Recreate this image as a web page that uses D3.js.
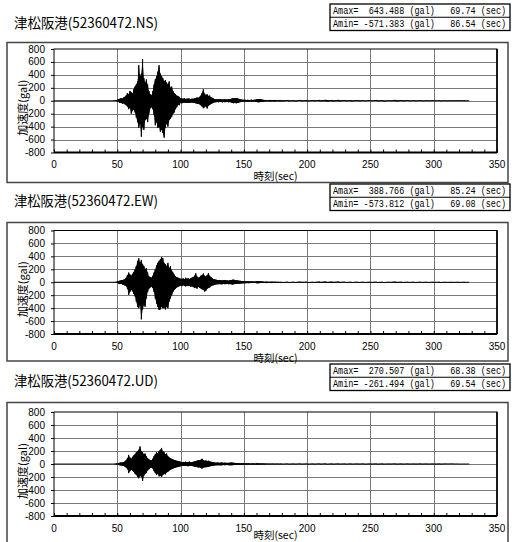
<!DOCTYPE html>
<html><head><meta charset="utf-8">
<script src="https://cdn.jsdelivr.net/npm/d3@7"></script>
<style>html,body{margin:0;padding:0;background:#fff;} svg{display:block}</style>
</head><body>
<script>
// ---------------- DATA ----------------
const stationName = "津松阪港";
const stationCode = "52360472";
const components = ["NS", "EW", "UD"];
const amaxValues = [643.488, 388.766, 270.507];
const amaxTimes  = [69.74, 85.24, 68.38];
const aminValues = [-571.383, -573.812, -261.494];
const aminTimes  = [86.54, 69.08, 69.54];
const xTicks = [0, 50, 100, 150, 200, 250, 300, 350];
const yTicks = [-800, -600, -400, -200, 0, 200, 400, 600, 800];
const xTitle = "時刻(sec)";
const yTitle = "加速度(gal)";

// sample grid (sec): start, then 1 s bins 45..180, then 5 s bins 185..325, last sample 328
const sampleTimes = [0].concat(d3.range(45, 181), d3.range(185, 326, 5), [328]);

// per-bin peak (hi) and trough (lo) accelerations read from the record (gal)
const nsHi = [0,
 0,0,2,3,5,
 15,25,30,40,35,50,60,80,120,100,
 150,130,110,180,220,250,300,550,380,420,
 643,350,280,330,250,150,100,80,150,250,
 330,380,450,550,420,380,350,300,320,280,
 250,300,200,220,150,120,100,80,70,60,
 40,35,30,38,28,32,35,30,28,32,
 30,35,40,50,45,60,80,120,177,110,
 90,100,75,80,55,45,35,25,22,25,
 20,22,25,18,20,22,20,18,22,25,
 30,38,35,42,40,36,30,22,18,15,
 14,15,12,14,12,13,15,12,14,16,
 20,25,22,26,20,15,12,10,8,9,
 10,8,12,10,8,10,8,7,8,6,8,
 6,5,7,5,6,8,10,7,9,6,5,6,4,5,6,5,4,8,6,5,4,5,3,4,3,3,2,3,2,1];
const nsLo = [0,
 0,0,-2,-3,-5,
 -15,-20,-35,-30,-45,-40,-55,-70,-90,-130,
 -110,-200,-160,-140,-180,-260,-330,-420,-350,-557,
 -400,-450,-300,-280,-330,-200,-120,-100,-130,-220,
 -380,-330,-420,-400,-480,-450,-500,-571,-420,-350,
 -400,-300,-280,-250,-200,-180,-130,-100,-60,-70,
 -35,-40,-30,-32,-28,-35,-30,-32,-30,-28,
 -32,-30,-40,-45,-50,-55,-70,-90,-115,-100,
 -85,-120,-80,-65,-50,-40,-30,-25,-22,-20,
 -22,-18,-20,-24,-18,-22,-20,-18,-22,-20,
 -28,-35,-38,-32,-40,-34,-28,-22,-16,-14,
 -12,-14,-11,-13,-15,-11,-13,-14,-11,-13,
 -18,-22,-24,-20,-18,-14,-11,-9,-8,-8,
 -8,-10,-8,-9,-10,-7,-8,-6,-8,-7,-6,
 -5,-6,-5,-7,-5,-6,-9,-8,-7,-5,-6,-5,-5,-4,-5,-6,-4,-7,-5,-4,-5,-4,-3,-3,-4,-3,-2,-2,-2,-1];

const ewHi = [0,
 0,0,2,3,4,
 12,20,25,30,35,40,45,70,110,150,
 120,100,130,160,200,250,330,371,300,345,
 280,250,200,220,150,90,80,70,100,150,
 200,260,300,330,350,389,371,300,280,250,
 300,220,250,180,150,120,90,80,70,60,
 55,50,60,45,70,55,60,50,65,70,
 80,100,139,90,70,80,100,110,135,100,
 90,110,139,100,80,60,50,45,40,35,
 30,35,32,28,30,35,30,28,25,30,
 35,38,40,35,30,28,25,22,20,18,
 18,16,15,14,15,13,14,12,13,12,
 15,18,16,14,12,10,9,8,8,7,
 7,8,6,7,6,6,5,6,5,5,5,
 5,4,6,5,4,6,8,6,7,5,4,5,4,4,5,4,3,6,5,4,3,4,3,3,3,2,2,2,2,1];
const ewLo = [0,
 0,0,-2,-3,-4,
 -10,-20,-28,-25,-35,-40,-50,-60,-100,-196,
 -150,-120,-140,-180,-220,-300,-380,-400,-350,-574,
 -420,-350,-380,-250,-150,-100,-80,-70,-90,-150,
 -250,-330,-380,-428,-420,-380,-400,-390,-420,-380,
 -400,-300,-250,-200,-150,-120,-100,-80,-70,-60,
 -50,-60,-45,-55,-65,-50,-60,-55,-70,-60,
 -75,-90,-80,-100,-70,-85,-95,-110,-120,-144,
 -130,-100,-90,-80,-60,-50,-45,-40,-35,-30,
 -30,-28,-32,-30,-25,-30,-28,-25,-30,-28,
 -32,-35,-30,-28,-26,-24,-22,-20,-18,-16,
 -16,-15,-14,-13,-14,-12,-13,-12,-11,-12,
 -14,-16,-14,-12,-10,-9,-8,-8,-7,-7,
 -6,-7,-6,-6,-5,-6,-5,-5,-5,-5,-5,
 -4,-5,-4,-5,-4,-6,-7,-6,-5,-4,-5,-4,-4,-3,-4,-5,-3,-6,-4,-3,-4,-3,-3,-2,-3,-2,-2,-2,-2,-1];

const udHi = [0,
 0,0,1,2,3,
 10,15,20,25,22,30,40,60,90,140,
 100,80,110,130,150,180,200,220,271,200,
 180,150,160,120,90,70,60,55,80,120,
 150,180,160,200,220,247,200,180,150,160,
 120,100,90,80,70,60,55,50,45,40,
 35,30,32,28,35,30,32,35,30,28,
 35,40,45,50,60,55,65,80,60,50,
 55,45,50,40,35,30,25,22,20,22,
 20,18,22,20,18,20,18,16,18,20,
 22,20,18,16,15,14,13,12,12,11,
 10,11,10,9,10,9,8,9,8,8,
 10,12,10,9,8,7,6,6,5,5,
 5,5,4,5,4,4,4,4,3,4,3,
 3,3,4,3,3,4,5,4,4,3,3,3,3,2,3,3,2,4,3,3,2,3,2,2,2,2,2,1,1,1];
const udLo = [0,
 0,0,-1,-2,-3,
 -10,-15,-20,-22,-28,-30,-40,-55,-80,-140,
 -110,-90,-100,-120,-150,-170,-200,-220,-180,-200,
 -261,-180,-150,-140,-100,-80,-60,-55,-70,-110,
 -140,-170,-150,-190,-180,-200,-170,-150,-160,-130,
 -120,-100,-90,-80,-70,-60,-55,-50,-45,-40,
 -35,-32,-30,-28,-32,-30,-35,-28,-30,-32,
 -35,-40,-42,-48,-55,-50,-60,-70,-55,-50,
 -50,-48,-42,-38,-32,-28,-25,-22,-20,-20,
 -18,-20,-20,-18,-16,-18,-17,-16,-18,-18,
 -20,-18,-16,-15,-14,-13,-12,-12,-11,-10,
 -10,-10,-9,-9,-8,-9,-8,-8,-8,-7,
 -9,-11,-9,-8,-7,-6,-6,-5,-5,-5,
 -5,-4,-4,-4,-4,-4,-3,-4,-3,-3,-3,
 -3,-3,-3,-4,-3,-3,-5,-4,-3,-3,-3,-2,-3,-2,-3,-3,-2,-3,-3,-2,-2,-2,-2,-2,-2,-1,-1,-1,-1,-1];

const hiSeries = [nsHi, ewHi, udHi];
const loSeries = [nsLo, ewLo, udLo];

// ---------------- LAYOUT ----------------
const W = 512, H = 542;
const plotLeft = 54, plotRight = 497;
const titleBase = [27.5, 206, 386];
const boxTop = [4, 184, 364];
const frameTop = [42.5, 222.5, 402.5];
const frameBottom = [182.5, 361, 546];
const plotTop = [49, 230.5, 412];
const plotBottom = [152.5, 334, 516];
const xTitleBase = [180, 361.5, 538.5];

const sansCJK = "'Noto Sans CJK JP', 'Noto Sans', sans-serif";
const sansNum = "'Liberation Sans', Arial, sans-serif";
const mono = "'Liberation Mono', 'DejaVu Sans Mono', monospace";

const svg = d3.select("body").append("svg").attr("width", W).attr("height", H)
  .style("font-family", sansNum);

const x = d3.scaleLinear().domain([0, 350]).range([plotLeft, plotRight]);

components.forEach((comp, p) => {
  const g = svg.append("g");
  const y = d3.scaleLinear().domain([-800, 800]).range([plotBottom[p], plotTop[p]]);

  // title
  g.append("text").attr("x", 14).attr("y", titleBase[p])
    .attr("font-family", sansCJK).attr("font-size", 14).attr("fill", "#000")
    .attr("textLength", 144).attr("lengthAdjust", "spacingAndGlyphs")
    .text(`${stationName}(${stationCode}.${comp})`);

  // info box
  const bx = 330, bw = 180, bh = 26.5;
  g.append("rect").attr("x", bx).attr("y", boxTop[p]).attr("width", bw).attr("height", bh)
    .attr("fill", "#fff").attr("stroke", "#000").attr("stroke-width", 1.3);
  g.append("line").attr("x1", bx).attr("x2", bx + bw)
    .attr("y1", boxTop[p] + bh / 2).attr("y2", boxTop[p] + bh / 2)
    .attr("stroke", "#000").attr("stroke-width", 1.2);
  const rows = [
    `Amax=${amaxValues[p].toFixed(3).padStart(9, " ")} (gal)${amaxTimes[p].toFixed(2).padStart(8, " ")} (sec)`,
    `Amin=${aminValues[p].toFixed(3).padStart(9, " ")} (gal)${aminTimes[p].toFixed(2).padStart(8, " ")} (sec)`
  ];
  rows.forEach((r, i) => {
    g.append("text")
      .attr("transform", `translate(333,${boxTop[p] + 9.8 + i * 13.25}) scale(0.85,1)`)
      .attr("font-family", mono).attr("font-size", 10).attr("fill", "#000")
      .attr("xml:space", "preserve").style("white-space", "pre")
      .text(r);
  });

  // outer frame
  g.append("rect").attr("x", 7).attr("y", frameTop[p]).attr("width", 501)
    .attr("height", frameBottom[p] - frameTop[p])
    .attr("fill", "none").attr("stroke", "#444").attr("stroke-width", 1.5);

  // grid
  const grid = g.append("g").attr("stroke", "#7a7a7a").attr("stroke-width", 1);
  xTicks.slice(1, -1).forEach(t => grid.append("line")
    .attr("x1", Math.round(x(t)) + 0.5).attr("x2", Math.round(x(t)) + 0.5)
    .attr("y1", plotTop[p]).attr("y2", plotBottom[p]));
  yTicks.slice(1, -1).forEach(v => grid.append("line")
    .attr("x1", plotLeft).attr("x2", plotRight)
    .attr("y1", Math.round(y(v)) + 0.5).attr("y2", Math.round(y(v)) + 0.5));

  // trace: filled min/max envelope plus zig-zag through peaks and troughs
  const clipId = "clip" + p;
  g.append("clipPath").attr("id", clipId).append("rect")
    .attr("x", plotLeft).attr("y", plotTop[p]).attr("width", plotRight - plotLeft)
    .attr("height", plotBottom[p] - plotTop[p]);
  const hi = hiSeries[p], lo = loSeries[p];
  const area = d3.area().x((d, i) => x(sampleTimes[i]))
    .y0((d, i) => y(lo[i])).y1((d, i) => y(hi[i]));
  g.append("path").attr("d", area(sampleTimes)).attr("fill", "#000")
    .attr("clip-path", `url(#${clipId})`);
  const pts = [];
  sampleTimes.forEach((t, i) => { pts.push([t, hi[i]]); pts.push([t, lo[i]]); });
  const line = d3.line().x(d => x(d[0])).y(d => y(d[1]));
  g.append("path").attr("d", line(pts)).attr("fill", "none")
    .attr("stroke", "#000").attr("stroke-width", 0.9).attr("clip-path", `url(#${clipId})`);

  // plot border
  g.append("rect").attr("x", plotLeft).attr("y", plotTop[p])
    .attr("width", plotRight - plotLeft).attr("height", plotBottom[p] - plotTop[p])
    .attr("fill", "none").attr("stroke", "#000").attr("stroke-width", 1);
  g.append("line").attr("x1", plotLeft).attr("x2", plotRight)
    .attr("y1", plotBottom[p]).attr("y2", plotBottom[p])
    .attr("stroke", "#000").attr("stroke-width", 1.8);
  g.append("line").attr("x1", plotRight).attr("x2", plotRight)
    .attr("y1", plotTop[p]).attr("y2", plotBottom[p])
    .attr("stroke", "#000").attr("stroke-width", 1.6);

  // x axis (minor ticks inside every 10 s)
  const xAxis = d3.axisBottom(x).tickValues(d3.range(0, 351, 10)).tickSize(-3).tickFormat("");
  const xa = g.append("g").attr("transform", `translate(0,${plotBottom[p]})`).call(xAxis);
  xa.select(".domain").remove();
  xa.selectAll("line").attr("stroke", "#000");
  xTicks.forEach(t => g.append("text").attr("x", x(t)).attr("y", plotBottom[p] + 15.5)
    .attr("text-anchor", "middle").attr("font-size", 10).attr("fill", "#000").text(t));

  // y axis
  const yAxis = d3.axisLeft(y).tickValues(yTicks).tickSize(3).tickFormat("");
  const ya = g.append("g").attr("transform", `translate(${plotLeft},0)`).call(yAxis);
  ya.select(".domain").remove();
  ya.selectAll("line").attr("stroke", "#000");
  yTicks.forEach(v => g.append("text").attr("x", 45).attr("y", y(v) + 3.5)
    .attr("text-anchor", "end").attr("font-size", 10).attr("fill", "#000").text(String(v)));

  // axis titles
  g.append("text").attr("x", (plotLeft + plotRight) / 2).attr("y", xTitleBase[p])
    .attr("text-anchor", "middle").attr("font-family", sansCJK).attr("font-size", 10.5)
    .attr("fill", "#000").text(xTitle);
  const yc = (plotTop[p] + plotBottom[p]) / 2 + 7;
  g.append("text").attr("transform", `translate(26.5,${yc}) rotate(-90)`)
    .attr("text-anchor", "middle").attr("font-family", sansCJK).attr("font-size", 11)
    .attr("fill", "#000").text(yTitle);
});
</script>
</body></html>
